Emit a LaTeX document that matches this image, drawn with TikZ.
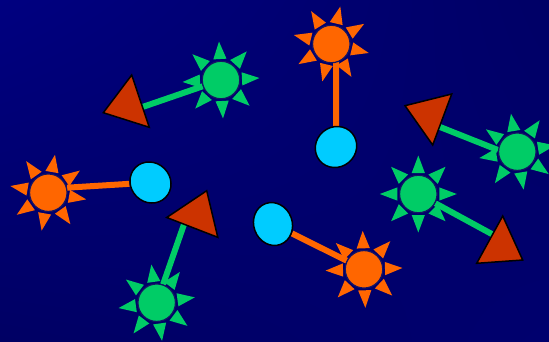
\documentclass[tikz,border=0pt]{standalone}
\usetikzlibrary{shapes.geometric,calc,shadings}
\definecolor{bgTL}{RGB}{0,0,128}
\definecolor{bgTR}{RGB}{0,0,102}
\definecolor{bgBL}{RGB}{0,0,100}
\definecolor{bgBR}{RGB}{0,0,110}
\definecolor{sunorange}{RGB}{255,102,0}
\definecolor{sungreen}{RGB}{0,204,102}
\definecolor{sunrim}{RGB}{20,20,100}
\definecolor{eggcyan}{RGB}{0,204,255}
\definecolor{trired}{RGB}{204,51,0}
\pgfdeclarelayer{bg}
\pgfdeclarelayer{links}
\pgfsetlayers{bg,links,main}
\tikzset{
  sunball/.style={circle, minimum size=37.5pt, inner sep=0pt, line width=1.2pt, draw=sunrim},
  orangelink/.style={draw=sunorange, line width=6pt},
  greenlink/.style={draw=sungreen, line width=6pt},
  egg/.style={ellipse, fill=eggcyan, draw=black, line width=1.5pt, inner sep=0pt},
  tri/.style={fill=trired, draw=black, line width=1.5pt, line join=miter}
}
\newcommand\drawsun[4]{%
  \begin{scope}[shift={(#2)}, rotate=#4]
    \foreach \k in {0,45,...,315} {\fill[#3, rotate=\k] (21,-6.6) -- (38.5,0) -- (21,6.6) -- cycle;}
  \end{scope}
  \node[sunball, fill=#3] (#1) at (#2) {};
}
\begin{document}
\begin{tikzpicture}[x=1pt,y=-1pt]
\useasboundingbox (0,0) rectangle (549,341);
\begin{pgfonlayer}{bg}
  \shade[upper left=bgTL, upper right=bgTR, lower left=bgBL, lower right=bgBR] (0,0) rectangle (549,341);
\end{pgfonlayer}

% suns
\drawsun{so1}{331.3,44}{sunorange}{31.5}
\drawsun{sg1}{221,80}{sungreen}{3}
\drawsun{so2}{48.3,192.7}{sunorange}{35}
\drawsun{sg2}{156.7,302.7}{sungreen}{8}
\drawsun{so3}{364,269.3}{sunorange}{2}
\drawsun{sg3}{517.3,151.7}{sungreen}{9.5}
\drawsun{sg4}{418.3,194}{sungreen}{0}

% cyan ellipses
\node[egg, minimum width=42.5pt, minimum height=40pt, rotate=40] (e1) at (336,147) {};
\node[egg, minimum width=42.5pt, minimum height=39.5pt, rotate=135] (e2) at (150.5,182.5) {};
\node[egg, minimum width=43.5pt, minimum height=38.5pt, rotate=110] (e3) at (273,224) {};

% red triangles
\draw[tri] (131.7,75) -- (103.3,112.7) -- (149.3,127.3) -- cycle;
\draw[tri] (166.7,217.5) -- (206.7,190.7) -- (217.8,237.3) -- cycle;
\draw[tri] (405,105.7) -- (451.7,94) -- (432.7,145) -- cycle;
\draw[tri] (502.7,216) -- (476.7,263.3) -- (522.7,260) -- cycle;
\coordinate (t1) at (130,111.3);
\coordinate (t2) at (189,210);
\coordinate (t3) at (435,125);
\coordinate (t4) at (500,238.5);

% connectors
\begin{pgfonlayer}{links}
  \draw[orangelink] (e1) -- (e1 |- so1);
  \draw[orangelink] (so2.15) -- (e2);
  \draw[orangelink] (e3) -- (so3);
  \draw[greenlink] (sg1) -- (t1);
  \draw[greenlink] (sg2) -- (t2);
  \draw[greenlink] (sg3.175) -- (t3);
  \draw[greenlink] (sg4) -- (t4);
\end{pgfonlayer}
\end{tikzpicture}
\end{document}
